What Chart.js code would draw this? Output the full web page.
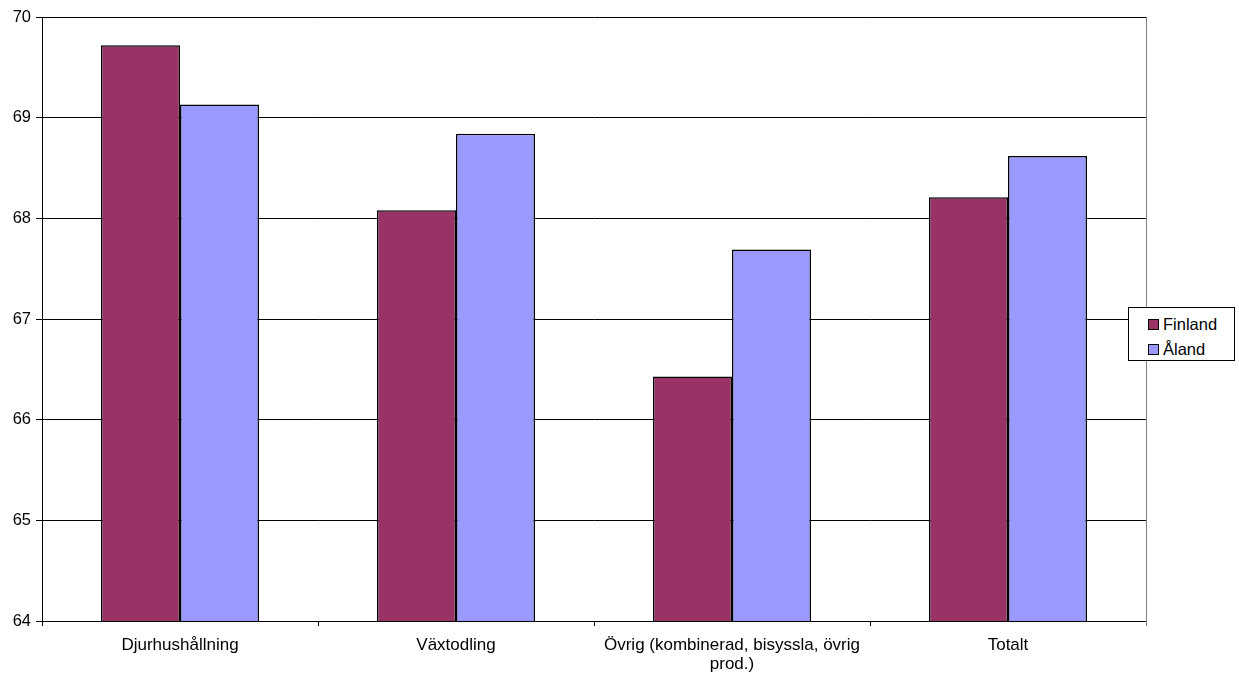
<!DOCTYPE html>
<html>
<head>
<meta charset="utf-8">
<script src="https://cdn.jsdelivr.net/npm/chart.js@4/dist/chart.umd.min.js"></script>
<style>
  html, body { margin: 0; padding: 0; background: #fff; }
  #wrap { position: relative; width: 1239px; height: 678px; }
  #legend {
    position: absolute; left: 1128px; top: 307px; width: 105px; height: 52px;
    border: 1px solid #000; background: #fff;
    font: 16.5px "Liberation Sans", Arial, sans-serif; color: #000;
  }
  #legend .item { position: absolute; left: 19px; height: 20px; line-height: 20px; white-space: nowrap; }
  #legend .sw { position: absolute; left: 0; top: 5px; width: 9px; height: 9px; border: 1px solid #000; }
  #legend .txt { position: absolute; left: 15px; top: 0; }
</style>
</head>
<body>
<div id="wrap">
  <canvas id="chart" width="1239" height="678"></canvas>
  <div id="legend"></div>
</div>
<script>
const categories = [
  "Djurhushållning",
  "Växtodling",
  ["Övrig (kombinerad, bisyssla, övrig", "prod.)"],
  "Totalt"
];
const finland = [69.72, 68.08, 66.43, 68.21];
const aland = [69.13, 68.84, 67.69, 68.62];
const yTicks = [64, 65, 66, 67, 68, 69, 70];

const FONT = "'Liberation Sans', Arial, sans-serif";

const datasets = [
  { label: "Finland", data: finland, backgroundColor: "#993366" },
  { label: "Åland", data: aland, backgroundColor: "#9999FF" }
].map(d => ({
  ...d,
  borderColor: "#000",
  borderWidth: 1.5,
  borderSkipped: false,
  categoryPercentage: 158 / 276,
  barPercentage: 1
}));

// grey right-hand frame of the plot area
const frame = {
  id: "frame",
  afterDraw(chart) {
    const { ctx, chartArea: a } = chart;
    ctx.save();
    ctx.strokeStyle = "#808080";
    ctx.lineWidth = 1;
    ctx.beginPath();
    ctx.moveTo(Math.round(a.right) + 0.5, a.top);
    ctx.lineTo(Math.round(a.right) + 0.5, a.bottom + 5);
    ctx.stroke();
    ctx.restore();
  }
};

const chart = new Chart(document.getElementById("chart"), {
  type: "bar",
  data: { labels: categories, datasets },
  options: {
    responsive: false,
    animation: false,
    devicePixelRatio: 1,
    layout: { padding: { top: 17, right: 93, left: 0, bottom: 0 } },
    plugins: { legend: { display: false }, tooltip: { enabled: false } },
    scales: {
      x: {
        offset: true,
        grid: { offset: true, drawOnChartArea: false, drawTicks: true, tickLength: 5, color: "#000" },
        border: { color: "#000", width: 1 },
        ticks: {
          color: "#000", padding: 10, maxRotation: 0, autoSkip: false,
          font: { family: FONT, size: 17, lineHeight: 1.12 }
        },
        afterFit(scale) { scale.height = 57; }
      },
      y: {
        min: yTicks[0],
        max: yTicks[yTicks.length - 1],
        afterBuildTicks(scale) { scale.ticks = yTicks.map(v => ({ value: v })); },
        grid: { color: "#000", lineWidth: 1, tickLength: 6 },
        border: { color: "#000", width: 1 },
        ticks: { color: "#000", padding: 5, font: { family: FONT, size: 16.5 } },
        afterFit(scale) { scale.width = 42; }
      }
    }
  },
  plugins: [frame]
});

// legend box built from the datasets
const legend = document.getElementById("legend");
chart.data.datasets.forEach((ds, i) => {
  const item = document.createElement("div");
  item.className = "item";
  item.style.top = (6 + i * 25) + "px";
  const sw = document.createElement("span");
  sw.className = "sw";
  sw.style.background = ds.backgroundColor;
  const txt = document.createElement("span");
  txt.className = "txt";
  txt.textContent = ds.label;
  item.appendChild(sw);
  item.appendChild(txt);
  legend.appendChild(item);
});
</script>
</body>
</html>
